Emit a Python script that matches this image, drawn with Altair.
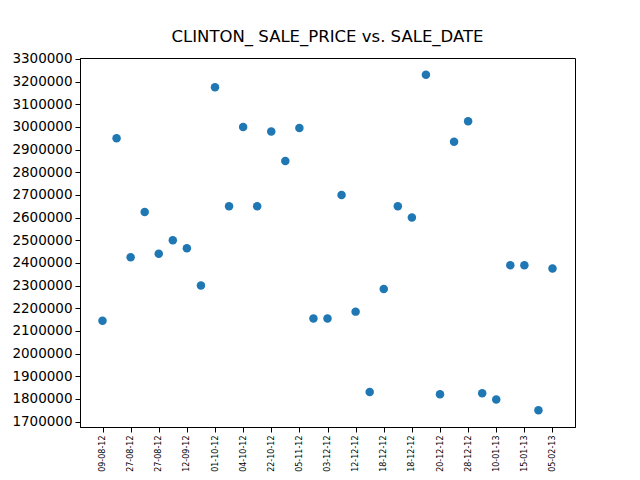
import altair as alt
import pandas as pd

# sale index (0..32), sale dates (odd ones between the shown labels are approximate)
dates = ["09-08-12", "20-08-12", "27-08-12", "27-08-12", "27-08-12", "05-09-12", "12-09-12", "20-09-12",
         "01-10-12", "02-10-12", "04-10-12", "15-10-12", "22-10-12", "30-10-12", "05-11-12", "20-11-12",
         "03-12-12", "07-12-12", "12-12-12", "14-12-12", "18-12-12", "18-12-12", "18-12-12", "19-12-12",
         "20-12-12", "24-12-12", "28-12-12", "03-01-13", "10-01-13", "12-01-13", "15-01-13", "25-01-13",
         "05-02-13"]
prices = [2145000, 2950000, 2425000, 2625000, 2440000, 2500000, 2465000, 2300000,
          3175000, 2650000, 3000000, 2650000, 2980000, 2850000, 2995000, 2155000,
          2155000, 2700000, 2185000, 1830000, 2285000, 2650000, 2600000, 3230000,
          1820000, 2935000, 3025000, 1825000, 1797000, 2390000, 2390000, 1750000,
          2375000]
y_ticks = list(range(1700000, 3300001, 100000))

df = pd.DataFrame({"idx": list(range(len(prices))), "date": dates, "price": prices})
label_arr = "[" + ",".join("'" + d + "'" for d in dates) + "]"
x_ticks = list(range(0, len(prices), 2))

font = "DejaVu Sans"

chart = alt.Chart(df).mark_circle(size=72, color="#1f77b4", opacity=1).encode(
    x=alt.X("idx:Q",
            scale=alt.Scale(domain=[-1.6, 33.6], nice=False, zero=False),
            axis=alt.Axis(values=x_ticks, labelExpr=label_arr + "[datum.value]",
                          labelAngle=270, labelFontSize=8, labelFont=font, labelColor="black",
                          labelAlign="right", labelBaseline="middle",
                          tickColor="black", tickSize=5, domainColor="black", grid=False,
                          title=None, labelPadding=3)),
    y=alt.Y("price:Q",
            scale=alt.Scale(domain=[1676000, 3304000], nice=False, zero=False),
            axis=alt.Axis(values=y_ticks, format="d", labelFontSize=13.5, labelFont=font,
                          labelColor="black", tickColor="black", tickSize=5, domainColor="black",
                          grid=False, title="_", titleFont=font, titleFontSize=13.5,
                          titleFontWeight="normal", titleColor="black", titlePadding=5,
                          labelPadding=3)),
).properties(
    width=495, height=369,
    title=alt.TitleParams("CLINTON_ SALE_PRICE vs. SALE_DATE", font=font, fontSize=16.5,
                          fontWeight="normal", color="black", offset=6),
    autosize=alt.AutoSizeParams(type="none"),
    padding={"left": 72, "top": 50, "right": 57, "bottom": 45},
).configure_view(stroke="black", strokeWidth=1)

chart.save("out.html", embed_options={"renderer": "svg", "actions": False})
